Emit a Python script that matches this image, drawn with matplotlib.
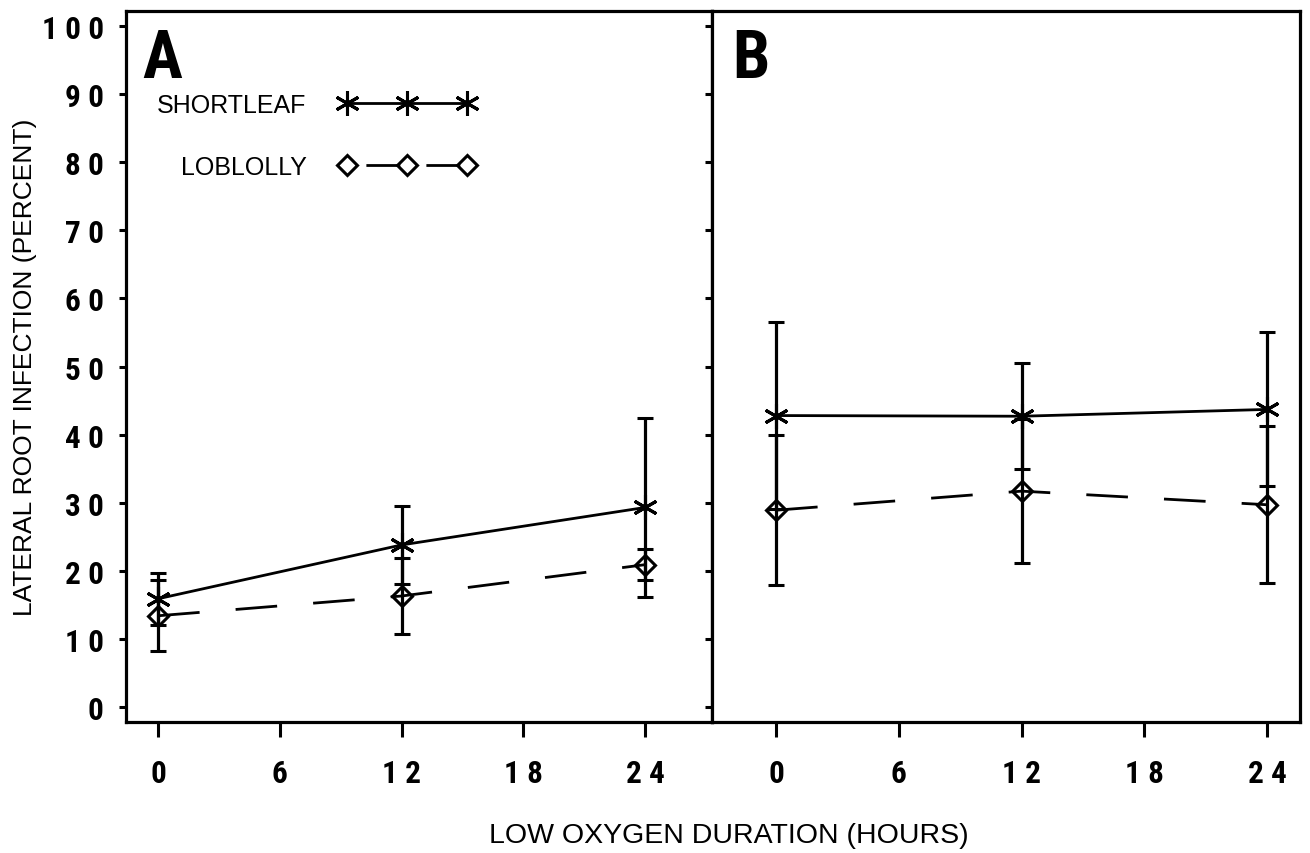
# Import libraries
import matplotlib
matplotlib.use("Agg")
import matplotlib.pyplot as plt
from matplotlib import font_manager
from matplotlib.lines import Line2D
from matplotlib.ticker import FuncFormatter

# Data (percent lateral root infection, mean and error bar half-length)
hours = [0, 12, 24]
a_shortleaf = [15.9, 23.8, 29.3]
a_shortleaf_err = [3.8, 5.7, 13.2]
a_loblolly = [13.4, 16.3, 20.9]
a_loblolly_err = [5.2, 5.6, 2.3]
b_shortleaf = [42.8, 42.7, 43.7]
b_shortleaf_err = [13.7, 7.8, 11.3]
b_loblolly = [28.9, 31.7, 29.7]
b_loblolly_err = [11.0, 10.6, 11.5]

x_ticks = [0, 6, 12, 18, 24]
y_ticks = [0, 10, 20, 30, 40, 50, 60, 70, 80, 90, 100]
series_names = ["SHORTLEAF", "LOBLOLLY"]
panel_names = ["A", "B"]


# Fonts
def pick_font(cands):
    names = {f.name for f in font_manager.fontManager.ttflist}
    for c in cands:
        if c in names:
            return c
    return "DejaVu Sans"


narrow = pick_font(["Liberation Sans Narrow", "Roboto Condensed", "DejaVu Sans"])
plain = pick_font(["Liberation Sans", "Arial", "DejaVu Sans"])
plt.rcParams["font.family"] = [plain, "DejaVu Sans"]

tick_font = dict(family=[narrow, "DejaVu Sans"], weight="bold", size=22.5, stretch="condensed")

# Styles
lw = 2.0
solid_style = "-"
dash_style = (0, (15, 13))
legend_dash = (14.8, (12.2, 9.4))
star = (6, 2, 0)

fig = plt.figure(figsize=(13.1, 8.54), dpi=100)
axA = fig.add_axes([0.0962, 0.1534, 0.4473, 0.8325])
axB = fig.add_axes([0.5435, 0.1534, 0.4489, 0.8325])


def spaced(v, pos):
    return " ".join(str(int(round(v))))


def format_axes(ax, xlim, show_ylabels):
    ax.set_xlim(*xlim)
    ax.set_ylim(-2.2, 102.2)
    ax.set_xticks(x_ticks)
    ax.set_yticks(y_ticks)
    ax.xaxis.set_major_formatter(FuncFormatter(spaced))
    ax.yaxis.set_major_formatter(FuncFormatter(spaced))
    ax.tick_params(axis="x", direction="out", length=11, width=2.2, pad=15)
    ax.tick_params(axis="y", direction="out", length=5, width=2.2, pad=11,
                   labelleft=show_ylabels)
    for lab in ax.get_xticklabels() + ax.get_yticklabels():
        lab.set_fontproperties(font_manager.FontProperties(**tick_font))
    for spine in ax.spines.values():
        spine.set_linewidth(2.3)


def draw_panel(ax, short, short_err, lob, lob_err):
    ax.errorbar(hours, short, yerr=short_err, color="black", lw=lw,
                linestyle=solid_style, marker=star, markersize=18, mew=2.2,
                ecolor="black", elinewidth=2.3, capsize=6, capthick=2.5)
    ax.errorbar(hours, lob, yerr=lob_err, color="black", lw=lw,
                linestyle=dash_style, marker="D", markersize=10.5, mew=2.2,
                mfc="none", mec="black",
                ecolor="black", elinewidth=2.3, capsize=6, capthick=2.5)


draw_panel(axA, a_shortleaf, a_shortleaf_err, a_loblolly, a_loblolly_err)
draw_panel(axB, b_shortleaf, b_shortleaf_err, b_loblolly, b_loblolly_err)
format_axes(axA, (-1.58, 27.3), True)
format_axes(axB, (-3.13, 25.6), False)

# Panel letters
for ax, name, xpos in [(axA, panel_names[0], 0.027), (axB, panel_names[1], 0.034)]:
    ax.text(xpos, 0.978, name, transform=ax.transAxes, ha="left", va="top",
            family=[narrow, "DejaVu Sans"], weight="bold", size=48,
            stretch="condensed")

# Legend (two single-entry legends so the text is right-aligned)
h_short = Line2D([], [], color="black", lw=lw, linestyle=solid_style,
                 marker=star, markersize=18, mew=2.2)
h_lob = Line2D([], [], color="black", lw=lw, linestyle=legend_dash,
               marker="D", markersize=10.5, mew=2.2, mfc="none")
leg1 = axA.legend([h_short], [series_names[0]], loc="center right",
                  bbox_to_anchor=(0.594, 0.868), frameon=False, markerfirst=False,
                  numpoints=3, handlelength=5.4, handletextpad=1.3,
                  borderpad=0, borderaxespad=0, fontsize=18)
axA.add_artist(leg1)
axA.legend([h_lob], [series_names[1]], loc="center right",
           bbox_to_anchor=(0.594, 0.781), frameon=False, markerfirst=False,
           numpoints=3, handlelength=5.4, handletextpad=1.3,
           borderpad=0, borderaxespad=0, fontsize=18)

# Axis titles
fig.text(0.556, 0.021, "LOW OXYGEN DURATION (HOURS)", ha="center", va="center",
         fontsize=20.5)
fig.text(0.019, 0.570, "LATERAL ROOT INFECTION (PERCENT)", ha="center",
         va="center", rotation=90, fontsize=19)

fig.savefig("out.png", dpi=100)
